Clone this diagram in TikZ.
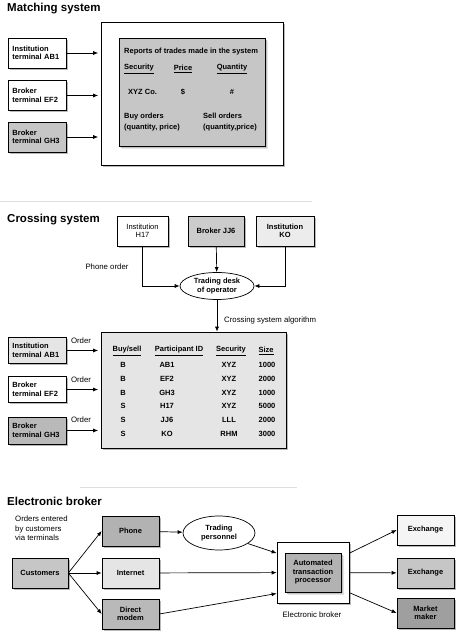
\documentclass[tikz,border=0pt]{standalone}
\usepackage{fontspec}
\setmainfont{Liberation Sans}
\usetikzlibrary{shadows,shapes.geometric,arrows.meta}
\tikzset{
  heading/.style={anchor=west,inner sep=0pt,font=\fontsize{11.5}{12}\selectfont\bfseries},
  box/.style={draw,line width=0.7pt,fill=white,minimum width=58pt,minimum height=30pt,
    inner sep=1pt,align=center,font=\fontsize{7.5}{8.5}\selectfont\bfseries,
    drop shadow={shadow xshift=1.6pt,shadow yshift=-1.6pt,fill=black!55}},
  lbox/.style={box,align=left,text width=49pt,inner xsep=4.5pt},
  plain/.style={inner sep=0pt,font=\fontsize{7.5}{8.5}\selectfont\bfseries},
  thin/.style={inner sep=0pt,align=left,font=\fontsize{7.8}{9.5}\selectfont},
  desk/.style={ellipse,draw,line width=0.7pt,fill=white,inner sep=0pt,align=center,
    font=\fontsize{7.5}{8.5}\selectfont\bfseries},
  sep/.style={gray!25,line width=0.6pt}
}
\begin{document}
\begin{tikzpicture}[x=1pt,y=-1pt,>={Latex[length=5pt,width=4pt]}]
  \useasboundingbox (0,0) rectangle (462,636);
  % matching system
  \draw
    (7,9) node[heading] (mtitle){Matching system}
    (37,53) node[lbox] (mab1){Institution\\terminal AB1}
    (37,95.5) node[lbox] (mef2){Broker\\terminal EF2}
    (37,137) node[lbox,fill=gray!45] (mgh3){Broker\\terminal GH3}
    (192,93.5) node[box,minimum width=182pt,minimum height=143pt] (msys){}
    (192,92) node[box,fill=gray!45,minimum width=146pt,minimum height=108pt,drop shadow={fill=gray!40}] (mtrades){};
  \draw
    (124,52) node[plain,anchor=west] (mrep){Reports of trades made in the system}
    (124,69) node[plain,anchor=west] (msec){\underline{Security}}
    (183,69) node[plain] (mprice){\underline{Price}}
    (232,69) node[plain] (mqty){\underline{Quantity}}
    (128,92) node[plain,anchor=west] (mxyz){XYZ Co.}
    (183,92) node[plain] (mdollar){\$}
    (232,92) node[plain] (mhash){\#}
    (124,122.5) node[plain,anchor=west,align=left,font=\fontsize{7.5}{11}\selectfont\bfseries] (mbuy){Buy orders\\(quantity, price)}
    (203,122.5) node[plain,anchor=west,align=left,font=\fontsize{7.5}{11}\selectfont\bfseries] (msell){Sell orders\\(quantity,price)};
  \begin{scope}[->,line width=0.7pt,shorten >=2.5pt]
    \draw (mab1) to (mab1 -| msys.west);
    \draw (mef2) to (mef2 -| msys.west);
    \draw (mgh3) to (mgh3 -| msys.west);
  \end{scope}
  \draw[sep] (0,201) -- (312,201);
  % crossing system
  \draw
    (7,220) node[heading] (ctitle){Crossing system}
    (142.5,231) node[box,minimum width=51pt,font=\fontsize{7.5}{8.5}\selectfont] (ch17){Institution\\H17}
    (216,231) node[box,minimum width=56pt,fill=gray!40] (cjj6){Broker JJ6}
    (285,231) node[box,fill=gray!15] (cko){Institution\\KO}
    (217,286) node[desk,minimum width=74pt,minimum height=27pt] (cdesk){Trading desk\\of operator}
    (107,267) node[thin] (cphone){Phone order}
    (224,320) node[thin,anchor=west] (calgo){Crossing system algorithm}
    (193.5,390) node[box,fill=gray!20,minimum width=185pt,minimum height=116pt] (ctable){}
    (37,350.5) node[lbox,fill=gray!20,minimum height=26pt] (cab1){Institution\\terminal AB1}
    (37,389.5) node[lbox,minimum height=26pt] (cef2){Broker\\terminal EF2}
    (37,430.5) node[lbox,fill=gray!55,minimum height=27pt] (cgh3){Broker\\terminal GH3}
    (81,341) node[thin] (cord1){Order}
    (81,380) node[thin] (cord2){Order}
    (81,420) node[thin] (cord3){Order};
  \draw
    (127,351) node[plain] (hbs){\underline{Buy/sell}}
    (179,351) node[plain] (hpid){\underline{Participant ID}}
    (231,351) node[plain] (hsec){\underline{Security}}
    (266,351) node[plain] (hsize){\underline{Size}}
    (123,365) node[plain] (bs1){B}   (167,365) node[plain] (pid1){AB1} (229,365) node[plain] (sec1){XYZ} (267,365) node[plain] (sz1){1000}
    (123,379) node[plain] (bs2){B}   (167,379) node[plain] (pid2){EF2} (229,379) node[plain] (sec2){XYZ} (267,379) node[plain] (sz2){2000}
    (123,393) node[plain] (bs3){B}   (167,393) node[plain] (pid3){GH3} (229,393) node[plain] (sec3){XYZ} (267,393) node[plain] (sz3){1000}
    (123,406) node[plain] (bs4){S}   (167,406) node[plain] (pid4){H17} (229,406) node[plain] (sec4){XYZ} (267,406) node[plain] (sz4){5000}
    (123,420) node[plain] (bs5){S}   (167,420) node[plain] (pid5){JJ6} (229,420) node[plain] (sec5){LLL} (267,420) node[plain] (sz5){2000}
    (123,434) node[plain] (bs6){S}   (167,434) node[plain] (pid6){KO}  (229,434) node[plain] (sec6){RHM} (267,434) node[plain] (sz6){3000};
  \begin{scope}[->,line width=0.7pt]
    \draw (ch17) |- (cdesk);
    \draw (cjj6) to (cdesk);
    \draw (cko) |- (cdesk);
    \draw (cdesk) to (cdesk.south |- ctable.north);
    \draw[shorten >=2.5pt] (cab1) to (cab1 -| ctable.west);
    \draw[shorten >=2.5pt] (cef2) to (cef2 -| ctable.west);
    \draw[shorten >=2.5pt] (cgh3) to (cgh3 -| ctable.west);
  \end{scope}
  \draw[sep] (80,487) -- (297,487);
  % electronic broker
  \draw
    (7,501) node[heading] (etitle){Electronic broker}
    (15,516) node[thin,anchor=north west] (eorders){Orders entered\\by customers\\via terminals}
    (40,573) node[box,minimum width=56pt,fill=gray!45] (ecust){Customers}
    (130.5,531) node[box,minimum width=57pt,fill=gray!60] (ephone){Phone}
    (130.5,573) node[box,minimum width=57pt,fill=gray!20] (einet){Internet}
    (130.5,614) node[box,minimum width=57pt,fill=gray!55] (emodem){Direct\\modem}
    (219,533) node[desk,minimum width=72pt,minimum height=34pt] (etrade){Trading\\personnel}
    (313,572.5) node[box,minimum width=72pt,minimum height=61pt] (eatp){}
    (313,572.5) node[box,minimum width=56pt,minimum height=39pt,fill=gray!60,drop shadow={fill=gray!40}] (eproc){Automated\\transaction\\processor}
    (312,615) node[thin] (elabel){Electronic broker}
    (425.5,530) node[box,minimum width=57pt,fill=gray!8] (eex1){Exchange}
    (425.5,573) node[box,minimum width=57pt,fill=gray!45] (eex2){Exchange}
    (425.5,613) node[box,minimum width=57pt,fill=gray!75] (emm){Market\\maker};
  \begin{scope}[->,line width=0.7pt]
    \draw (ecust.east) to (ephone.west);
    \draw (ecust.east) to (einet.west);
    \draw (ecust.east) to (emodem.west);
    \draw (ephone) to (etrade);
    \draw (etrade.-20) to (eatp.152);
    \draw (einet) to (eatp);
    \draw (emodem.east) to (eatp.210);
    \draw (eatp.28) to (eex1.west);
    \draw (eatp) to (eex2);
    \draw (eatp.-29) to (emm.west);
  \end{scope}
\end{tikzpicture}
\end{document}
